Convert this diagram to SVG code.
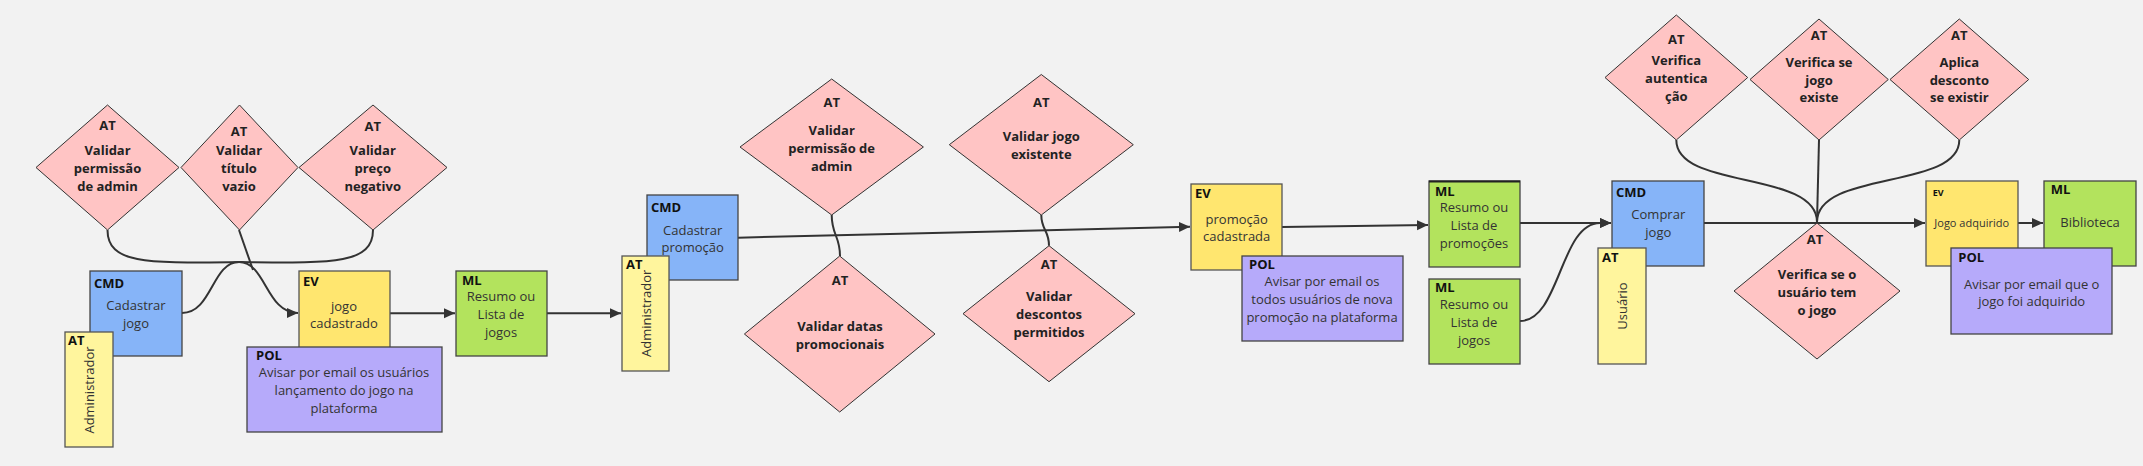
<svg xmlns="http://www.w3.org/2000/svg" width="2143" height="466" viewBox="0 0 2143 466">
<defs>
<style>
text{font-family:"Open Sans","Noto Sans","DejaVu Sans",sans-serif;}
.bg{fill:#f2f2f2;}
.dia{fill:#ffc4c4;stroke:#333;stroke-width:1;}
.cmd{fill:#86b4f8;stroke:#444;stroke-width:1.3;}
.ev{fill:#ffe66f;stroke:#555;stroke-width:1.3;}
.ml{fill:#b3e35d;stroke:#444;stroke-width:1.3;}
.pol{fill:#b6aafa;stroke:#444;stroke-width:1.3;}
.act{fill:#fff59d;stroke:#555;stroke-width:1.3;}
.h{font-size:13px;font-weight:700;fill:#111;}
.b{font-size:13px;fill:#333;text-anchor:middle;}
.d{font-size:13px;font-weight:700;fill:#222;text-anchor:middle;}
.c{fill:none;stroke:#333;stroke-width:2;}
.a{marker-end:url(#arr);}
</style>
<marker id="arr" markerUnits="userSpaceOnUse" markerWidth="12" markerHeight="12" refX="11" refY="5" orient="auto" viewBox="0 0 12 10">
<path d="M0,0 L11,5 L0,10 z" fill="#333"/>
</marker>
</defs>
<rect class="bg" x="0" y="0" width="2143" height="466"/>

<g id="connectors">
<path class="c a" d="M182,313 C212,313 212,262 239,262 C266,262 266,313 298,313"/>
<path class="c" d="M107.5,230 C107.5,265 150,263 240,262"/>
<path class="c" d="M373,230 C373,265 330,263 240,262"/>
<path class="c" d="M239,230 L253,270"/>
<path class="c a" d="M390,313.3 L455,313.3"/>
<path class="c a" d="M547,313.3 L621,313.3"/>
<path class="c a" d="M738,237.7 L1190,226.7"/>
<path class="c" d="M831.7,215 C831.7,235 840,236 840,256"/>
<path class="c" d="M1041.3,215 C1041.3,230 1049,230 1049,245.7"/>
<path class="c a" d="M1282,227 L1428,225"/>
<path class="c a" d="M1520,223 L1611,223"/>
<path class="c a" d="M1520,321 C1560,321 1560,223 1600,223 L1611,223"/>
<path class="c a" d="M1704,223 L1925,223"/>
<path class="c" d="M1676.3,140 C1676.3,190 1817,170 1817,222"/>
<path class="c" d="M1819,140 L1817,222"/>
<path class="c" d="M1959.3,140 C1959.3,190 1817,170 1817,222"/>
<path class="c a" d="M2018,223 L2043,223"/>
</g>

<g id="at-validar-permissao-1">
<polygon class="dia" points="107.5,105 179,167.5 107.5,230 36,167.5"/>
<text class="d" x="107.5" y="129.5">AT</text>
<text class="d" x="107.5" y="154.5">Validar</text>
<text class="d" x="107.5" y="173">permissão</text>
<text class="d" x="107.5" y="190.5">de admin</text>
</g>
<g id="at-validar-titulo">
<polygon class="dia" points="239.5,105 298,167.5 239.5,230 181,167.5"/>
<text class="d" x="239" y="136">AT</text>
<text class="d" x="239" y="154.5">Validar</text>
<text class="d" x="239" y="173">título</text>
<text class="d" x="239" y="190.5">vazio</text>
</g>
<g id="at-validar-preco">
<polygon class="dia" points="373,105 447,167.5 373,230 299,167.5"/>
<text class="d" x="372.7" y="130.5">AT</text>
<text class="d" x="372.7" y="154.5">Validar</text>
<text class="d" x="372.7" y="173">preço</text>
<text class="d" x="372.7" y="190.5">negativo</text>
</g>

<g id="cmd-cadastrar-jogo">
<rect class="cmd" x="90" y="271" width="92" height="85"/>
<text class="h" x="94" y="288">CMD</text>
<text class="b" x="136" y="310">Cadastrar</text>
<text class="b" x="136" y="327.5">jogo</text>
</g>
<g id="at-administrador-1">
<rect class="act" x="65" y="332" width="48" height="115"/>
<text class="h" x="68" y="345">AT</text>
<text class="b" transform="translate(89,390) rotate(-90)" x="0" y="4.5">Administrador</text>
</g>

<g id="ev-jogo-cadastrado">
<rect class="ev" x="299" y="271" width="91" height="85"/>
<text class="h" x="303" y="286">EV</text>
<text class="b" x="344" y="310.5">jogo</text>
<text class="b" x="344" y="327.5">cadastrado</text>
</g>
<g id="pol-avisar-lancamento">
<rect class="pol" x="247" y="347" width="195" height="85"/>
<text class="h" x="256" y="360">POL</text>
<text class="b" x="344" y="377">Avisar por email os usuários</text>
<text class="b" x="344" y="395">lançamento do jogo na</text>
<text class="b" x="344" y="413">plataforma</text>
</g>

<g id="ml-lista-jogos-1">
<rect class="ml" x="456" y="271" width="91" height="85"/>
<text class="h" x="462" y="285">ML</text>
<text class="b" x="501" y="301">Resumo ou</text>
<text class="b" x="501" y="318.5">Lista de</text>
<text class="b" x="501" y="336.5">jogos</text>
</g>

<g id="cmd-cadastrar-promocao">
<rect class="cmd" x="647" y="195" width="91" height="85"/>
<text class="h" x="651" y="211.5">CMD</text>
<text class="b" x="692.7" y="234.5">Cadastrar</text>
<text class="b" x="692.7" y="251.5">promoção</text>
</g>
<g id="at-administrador-2">
<rect class="act" x="622" y="256" width="47" height="115"/>
<text class="h" x="626" y="269">AT</text>
<text class="b" transform="translate(646,313.3) rotate(-90)" x="0" y="4.5">Administrador</text>
</g>

<g id="at-validar-permissao-2">
<polygon class="dia" points="831.7,79 923.4,147 831.7,215 740,147"/>
<text class="d" x="831.7" y="107">AT</text>
<text class="d" x="831.7" y="134.5">Validar</text>
<text class="d" x="831.7" y="153">permissão de</text>
<text class="d" x="831.7" y="170.5">admin</text>
</g>
<g id="at-validar-datas">
<polygon class="dia" points="839.7,256 935,334 839.7,412 744.4,334"/>
<text class="d" x="840" y="284.5">AT</text>
<text class="d" x="840" y="330.5">Validar datas</text>
<text class="d" x="840" y="348.5">promocionais</text>
</g>
<g id="at-validar-jogo-existente">
<polygon class="dia" points="1041.3,74.5 1133.3,144.7 1041.3,215 949.3,144.7"/>
<text class="d" x="1041.3" y="107">AT</text>
<text class="d" x="1041.3" y="141">Validar jogo</text>
<text class="d" x="1041.3" y="158.5">existente</text>
</g>
<g id="at-validar-descontos">
<polygon class="dia" points="1049,245.7 1135,313.7 1049,381.7 963,313.7"/>
<text class="d" x="1049" y="269">AT</text>
<text class="d" x="1049" y="301">Validar</text>
<text class="d" x="1049" y="318.5">descontos</text>
<text class="d" x="1049" y="336.5">permitidos</text>
</g>

<g id="ev-promocao-cadastrada">
<rect class="ev" x="1191" y="184" width="91" height="86"/>
<text class="h" x="1195" y="198">EV</text>
<text class="b" x="1236.7" y="223.5">promoção</text>
<text class="b" x="1236.7" y="241">cadastrada</text>
</g>
<g id="pol-avisar-promocao">
<rect class="pol" x="1242" y="256" width="161" height="85"/>
<text class="h" x="1249" y="269">POL</text>
<text class="b" x="1322" y="286">Avisar por email os</text>
<text class="b" x="1322" y="304">todos usuários de nova</text>
<text class="b" x="1322" y="322">promoção na plataforma</text>
</g>

<g id="ml-lista-promocoes">
<rect class="ml" x="1429" y="181" width="91" height="86"/>
<line x1="1429" y1="181.5" x2="1520" y2="181.5" stroke="#222" stroke-width="2"/>
<text class="h" x="1435" y="196">ML</text>
<text class="b" x="1474" y="212">Resumo ou</text>
<text class="b" x="1474" y="230">Lista de</text>
<text class="b" x="1474" y="248">promoções</text>
</g>
<g id="ml-lista-jogos-2">
<rect class="ml" x="1429" y="279" width="91" height="85"/>
<text class="h" x="1435" y="291.5">ML</text>
<text class="b" x="1474" y="309">Resumo ou</text>
<text class="b" x="1474" y="327">Lista de</text>
<text class="b" x="1474" y="345">jogos</text>
</g>

<g id="cmd-comprar-jogo">
<rect class="cmd" x="1612" y="181" width="92" height="85"/>
<text class="h" x="1616" y="197">CMD</text>
<text class="b" x="1658.3" y="219">Comprar</text>
<text class="b" x="1658.3" y="237">jogo</text>
</g>
<g id="at-usuario">
<rect class="act" x="1598" y="248" width="48" height="116"/>
<text class="h" x="1602" y="262">AT</text>
<text class="b" transform="translate(1622.7,306) rotate(-90)" x="0" y="4.5">Usuário</text>
</g>

<g id="at-verifica-autenticacao">
<polygon class="dia" points="1676.3,15 1747.7,77.5 1676.3,140 1605,77.5"/>
<text class="d" x="1676.3" y="44">AT</text>
<text class="d" x="1676.3" y="64.5">Verifica</text>
<text class="d" x="1676.3" y="83">autentica</text>
<text class="d" x="1676.3" y="101">ção</text>
</g>
<g id="at-verifica-jogo-existe">
<polygon class="dia" points="1819,19 1888.3,79.5 1819,140 1750,79.5"/>
<text class="d" x="1819" y="39.5">AT</text>
<text class="d" x="1819" y="67">Verifica se</text>
<text class="d" x="1819" y="85">jogo</text>
<text class="d" x="1819" y="102">existe</text>
</g>
<g id="at-aplica-desconto">
<polygon class="dia" points="1959.3,19 2028.7,79.5 1959.3,140 1890,79.5"/>
<text class="d" x="1959.3" y="39.5">AT</text>
<text class="d" x="1959.3" y="67">Aplica</text>
<text class="d" x="1959.3" y="85">desconto</text>
<text class="d" x="1959.3" y="102">se existir</text>
</g>
<g id="at-verifica-usuario-tem-jogo">
<polygon class="dia" points="1817,223 1900,291 1817,359 1734,291"/>
<text class="d" x="1815" y="244">AT</text>
<text class="d" x="1817" y="279">Verifica se o</text>
<text class="d" x="1817" y="297">usuário tem</text>
<text class="d" x="1817" y="314.5">o jogo</text>
</g>

<g id="ev-jogo-adquirido">
<rect class="ev" x="1926" y="181" width="92" height="85"/>
<text class="h" x="1932.7" y="196" style="font-size:9px">EV</text>
<text class="b" x="1971.7" y="226.5" style="font-size:11px">Jogo adquirido</text>
</g>
<g id="ml-biblioteca">
<rect class="ml" x="2044" y="181" width="92" height="85"/>
<text class="h" x="2050.7" y="194">ML</text>
<text class="b" x="2090" y="227">Biblioteca</text>
</g>
<g id="pol-avisar-adquirido">
<rect class="pol" x="1951" y="248" width="161" height="86"/>
<text class="h" x="1958.3" y="262">POL</text>
<text class="b" x="2031.7" y="288.5">Avisar por email que o</text>
<text class="b" x="2031.7" y="306">jogo foi adquirido</text>
</g>
</svg>
